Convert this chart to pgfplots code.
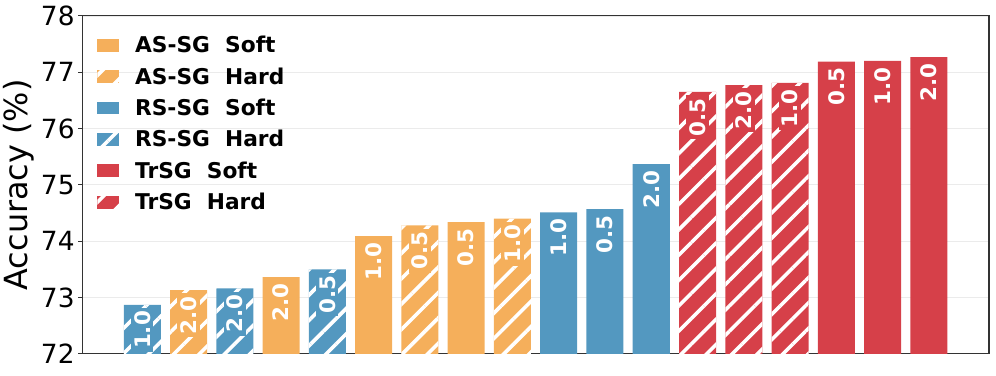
\documentclass[border=0pt]{standalone}
\usepackage{fontspec}
\setmainfont{DejaVu Sans}
\usepackage{pgfplots}
\pgfplotsset{compat=1.18}
\usetikzlibrary{patterns.meta}

\definecolor{cOr}{RGB}{245,175,91}
\definecolor{cBl}{RGB}{83,152,192}
\definecolor{cRd}{RGB}{214,64,73}
\definecolor{gridc}{RGB}{235,235,235}

\tikzset{
  hatch/.style={postaction={pattern={Lines[angle=45,distance=18pt,line width=3.6pt]},pattern color=white}},
}

\begin{document}
\begin{tikzpicture}
\begin{axis}[
    name=ax,
    scale only axis,
    width=910pt, height=339pt,
    ybar, bar width=0.8, bar shift=0pt,
    xmin=-1.3, xmax=18.3,
    ymin=72, ymax=78,
    ytick={72,73,...,78},
    xtick=\empty,
    ymajorgrids=true,
    grid style={gridc, line width=0.8pt},
    axis line style={black!80, line width=1.1pt},
    tick style={black!80, line width=1pt},
    major tick length=4pt,
    tick align=outside,
    ytick pos=left,
    ticklabel style={font=\fontsize{26.5}{30}\selectfont},
    /pgf/number format/assume math mode=true,
    ylabel={Accuracy (\%)},
    ylabel style={font=\fontsize{32}{36}\selectfont},
    point meta=explicit symbolic,
    nodes near coords,
    nodes near coords style={rotate=90, anchor=east, xshift=-3pt,
        text=white, inner sep=3pt, font=\fontsize{21.5}{24}\bfseries},
    legend style={at={(rel axis cs:0,1)}, anchor=north west,
        xshift=12pt, yshift=-16pt, draw=none, fill=none,
        font=\fontsize{21.8}{24}\bfseries, row sep=9.5pt,
        legend cell align=left},
    legend image code/.code={\path[#1, draw=none] (0pt,-6.5pt) rectangle (22pt,6.5pt);},
  ]
  % AS-SG Soft
  \addplot[fill=cOr, draw=none, every node near coord/.append style={fill=cOr}]
    table[meta=lab] {
    x y lab
    3 73.36 2.0
    5 74.09 1.0
    7 74.34 0.5
  };
  \addlegendentry{\hspace{14pt}AS-SG\ \ Soft}
  % AS-SG Hard
  \addplot[fill=cOr, draw=none, hatch, every node near coord/.append style={fill=cOr}]
    table[meta=lab] {
    x y lab
    1 73.13 2.0
    6 74.28 0.5
    8 74.40 1.0
  };
  \addlegendentry{\hspace{14pt}AS-SG\ \ Hard}
  % RS-SG Soft
  \addplot[fill=cBl, draw=none, every node near coord/.append style={fill=cBl}]
    table[meta=lab] {
    x y lab
    9 74.51 1.0
    10 74.57 0.5
    11 75.37 2.0
  };
  \addlegendentry{\hspace{14pt}RS-SG\ \ Soft}
  % RS-SG Hard
  \addplot[fill=cBl, draw=none, hatch, every node near coord/.append style={fill=cBl}]
    table[meta=lab] {
    x y lab
    0 72.87 1.0
    2 73.16 2.0
    4 73.50 0.5
  };
  \addlegendentry{\hspace{14pt}RS-SG\ \ Hard}
  % TrSG Soft
  \addplot[fill=cRd, draw=none, every node near coord/.append style={fill=cRd}]
    table[meta=lab] {
    x y lab
    15 77.19 0.5
    16 77.20 1.0
    17 77.27 2.0
  };
  \addlegendentry{\hspace{14pt}TrSG\ \ Soft}
  % TrSG Hard
  \addplot[fill=cRd, draw=none, hatch, every node near coord/.append style={fill=cRd}]
    table[meta=lab] {
    x y lab
    12 76.65 0.5
    13 76.77 2.0
    14 76.81 1.0
  };
  \addlegendentry{\hspace{14pt}TrSG\ \ Hard}
\end{axis}
\path ([shift={(-79pt,-22pt)}]ax.south west) rectangle ([shift={(7pt,16pt)}]ax.north east);
\end{tikzpicture}
\end{document}
